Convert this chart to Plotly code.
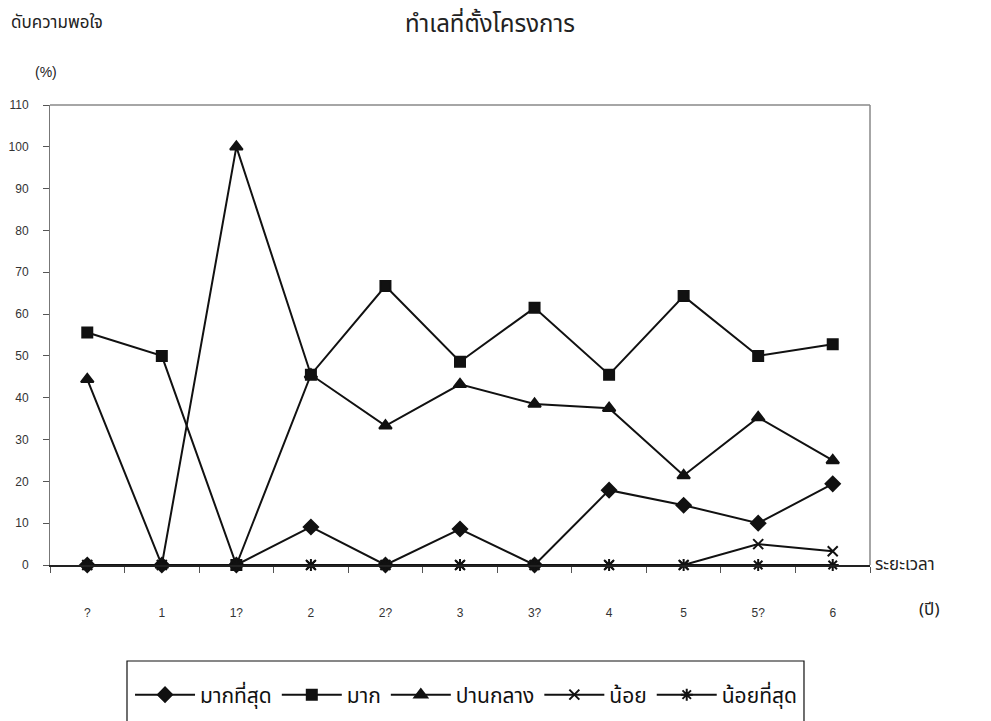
import plotly.graph_objects as go

categories = ["?", "1", "1?", "2", "2?", "3", "3?", "4", "5", "5?", "6"]
most = [0, 0, 0, 9.1, 0, 8.6, 0, 17.9, 14.3, 10.0, 19.4]
much = [55.6, 50.0, 0, 45.5, 66.7, 48.6, 61.5, 45.5, 64.3, 50.0, 52.8]
medium = [44.4, 0, 100.0, 45.5, 33.3, 43.2, 38.5, 37.5, 21.4, 35.3, 25.0]
little = [0, 0, 0, 0, 0, 0, 0, 0, 0, 5.0, 3.3]
least = [0, 0, 0, 0, 0, 0, 0, 0, 0, 0, 0]

series_names = ["มากที่สุด", "มาก", "ปานกลาง", "น้อย", "น้อยที่สุด"]

FONT = "Noto Sans Thai, Tahoma, Liberation Sans, Arial, sans-serif"
NUMFONT = "Liberation Sans, Arial, sans-serif"

# draw order: triangle series below the square series
series = [
    (series_names[0], most, "diamond", 11, 1),
    (series_names[2], medium, "triangle-up", 11, 3),
    (series_names[1], much, "square", 10, 2),
    (series_names[3], little, "x-thin-open", 10, 4),
    (series_names[4], least, "asterisk-open", 10, 5),
]

fig = go.Figure()
for name, vals, sym, size, rank in series:
    fig.add_trace(go.Scatter(
        x=categories, y=vals, name=name, mode="lines+markers",
        line=dict(color="#111111", width=2),
        marker=dict(symbol=sym, size=size, color="#111111",
                    line=dict(color="#111111", width=2)),
        cliponaxis=False, legendrank=rank,
    ))

# screen geometry (page has an 8px body margin; bottom of the figure runs past the window)
fig.update_layout(
    width=983, height=721,
    margin=dict(l=42, r=121, t=97, b=164),
    paper_bgcolor="white", plot_bgcolor="white",
    font=dict(family=FONT, color="#222222", size=12),
    showlegend=True,
    title=dict(text="ทำเลที่ตั้งโครงการ", x=0.4903, xref="container", xanchor="center",
               y=1 - 15.5 / 721, yref="container", yanchor="middle",
               font=dict(size=24, color="#222222")),
    legend=dict(orientation="h", x=0.0976, xanchor="left", y=-0.2826, yanchor="middle",
                borderwidth=0, bgcolor="rgba(0,0,0,0)",
                font=dict(size=21, color="#111111"),
                itemwidth=60, tracegroupgap=0),
    xaxis=dict(type="category", tickson="boundaries", ticks="outside", ticklen=6,
               tickcolor="#555555", showgrid=False, zeroline=False,
               showline=True, linecolor="#222222", linewidth=1.5,
               ticklabelstandoff=36, automargin=False,
               tickfont=dict(size=12, color="#333333", family=NUMFONT),
               range=[-0.5, 10.5]),
    yaxis=dict(range=[0, 110], dtick=10, ticks="outside", ticklen=6,
               tickcolor="#555555", showgrid=False, zeroline=False,
               showline=True, linecolor="#777777", linewidth=1,
               ticklabelstandoff=12, automargin=False,
               tickfont=dict(size=12, color="#333333", family=NUMFONT)),
    shapes=[
        dict(type="line", xref="paper", yref="paper", x0=0, x1=1, y0=1, y1=1,
             line=dict(color="#888888", width=1.5)),
        dict(type="line", xref="paper", yref="paper", x0=1, x1=1, y0=0, y1=1,
             line=dict(color="#888888", width=1.5)),
        dict(type="rect", xref="paper", yref="paper", x0=0.0939, x1=0.9195,
             y0=-0.2087, y1=-0.40, line=dict(color="#111111", width=1.2),
             fillcolor="rgba(0,0,0,0)"),
    ],
    annotations=[
        dict(text="ดับความพอใจ", xref="paper", yref="paper", x=-0.05, y=1.178,
             xanchor="left", yanchor="middle", showarrow=False,
             font=dict(size=17, color="#222222")),
        dict(text="(%)", xref="paper", yref="paper", x=-0.005, y=1.072,
             xanchor="center", yanchor="middle", showarrow=False,
             font=dict(size=14, color="#222222", family=NUMFONT)),
        dict(text="ระยะเวลา", xref="paper", yref="paper", x=1.004, y=0.0,
             xanchor="left", yanchor="middle", showarrow=False,
             font=dict(size=17, color="#222222")),
        dict(text="(ปี)", xref="paper", yref="paper", x=1.073, y=-0.098,
             xanchor="center", yanchor="middle", showarrow=False,
             font=dict(size=17, color="#222222")),
    ],
)

fig.write_html("out.html")
